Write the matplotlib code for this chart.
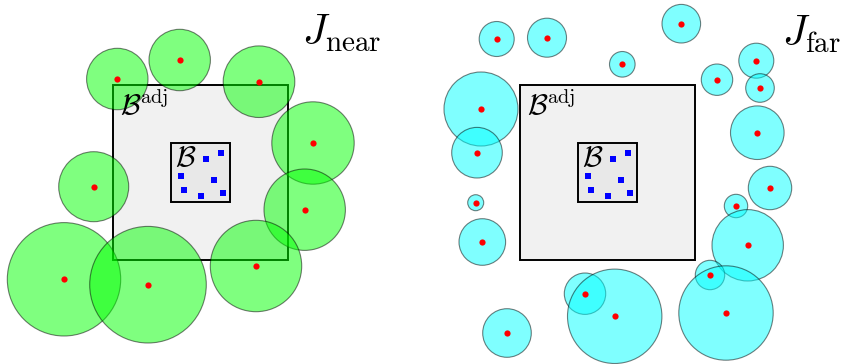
import matplotlib
matplotlib.use("Agg")
import matplotlib.pyplot as plt
from matplotlib.patches import Circle, Rectangle

plt.rcParams["mathtext.fontset"] = "cm"

# everything is laid out in pixel units, y pointing down
W, H = 844, 364

# box centres and sizes (big box B^adj, small box B)
box_centers = [(200.7, 172.7), (607.7, 172.7)]
big_side = 175.0
small_side = 58.5

# target points inside B, relative to the box centre
pts_dx = [5.3, 20.0, -19.4, 13.3, -17.0, 0.6, 22.3]
pts_dy = [-14.0, -19.4, 3.0, 7.3, 17.3, 23.0, 20.0]

# near-field sources (left)
near_x = [117.3, 179.7, 259.0, 313.0, 93.7, 304.7, 64.0, 148.0, 256.0]
near_y = [79.0, 60.0, 81.7, 143.0, 186.7, 209.7, 279.3, 284.7, 266.0]
near_r = [30.7, 30.7, 35.8, 41.2, 35.0, 40.7, 56.7, 58.3, 45.7]

# far-field sources (right)
far_x = [496.7, 547.0, 681.3, 622.3, 717.0, 756.3, 760.0, 481.0, 477.0, 757.3,
         770.0, 475.7, 736.0, 482.3, 747.7, 710.0, 585.0, 614.7, 726.0, 507.0]
far_y = [39.0, 37.7, 23.7, 64.3, 79.7, 60.7, 88.0, 109.0, 152.7, 132.7,
         188.0, 202.7, 206.0, 242.0, 245.3, 275.0, 293.7, 316.3, 313.0, 333.0]
far_r = [17.5, 19.5, 19.3, 12.8, 15.7, 17.5, 14.3, 37.0, 25.3, 26.8,
         21.7, 8.0, 11.7, 23.3, 35.7, 14.7, 20.7, 47.2, 47.2, 24.3]

fig = plt.figure(figsize=(W / 100, H / 100), dpi=100)
ax = fig.add_axes([0, 0, 1, 1])
ax.set_xlim(0, W)
ax.set_ylim(H, 0)
ax.set_aspect("equal")
ax.axis("off")


def draw_boxes(cx, cy):
    ax.add_patch(Rectangle((cx - big_side / 2, cy - big_side / 2), big_side, big_side,
                           facecolor="#f1f1f1", edgecolor="black", lw=1.4, zorder=1))
    ax.add_patch(Rectangle((cx - small_side / 2, cy - small_side / 2), small_side, small_side,
                           facecolor="#e8e8e8", edgecolor="black", lw=1.4, zorder=2))
    ax.scatter([cx + d for d in pts_dx], [cy + d for d in pts_dy], s=14, marker="s",
               color="blue", linewidths=0, zorder=5)
    ax.text(cx - big_side / 2 + 7, cy - big_side / 2 + 30, r"$\mathcal{B}^{\mathrm{adj}}$",
            fontsize=21, va="baseline", zorder=6)
    ax.text(cx - small_side / 2 + 4, cy - small_side / 2 + 23, r"$\mathcal{B}$",
            fontsize=21, va="baseline", zorder=6)


def draw_sources(xs, ys, rs, color):
    for x, y, r in zip(xs, ys, rs):
        ax.add_patch(Circle((x, y), r, facecolor=color, edgecolor="black",
                            alpha=0.5, lw=0.8, zorder=3))
    ax.scatter(xs, ys, s=20, color="red", linewidths=0, zorder=4)


for cx, cy in box_centers:
    draw_boxes(cx, cy)

draw_sources(near_x, near_y, near_r, "lime")
draw_sources(far_x, far_y, far_r, "cyan")

ax.text(302, 45, r"$J_{\mathrm{near}}$", fontsize=30, va="baseline")
ax.text(W - 3, 46, r"$J_{\mathrm{far}}$", fontsize=30, va="baseline", ha="right")

fig.savefig("out.png", dpi=100)
